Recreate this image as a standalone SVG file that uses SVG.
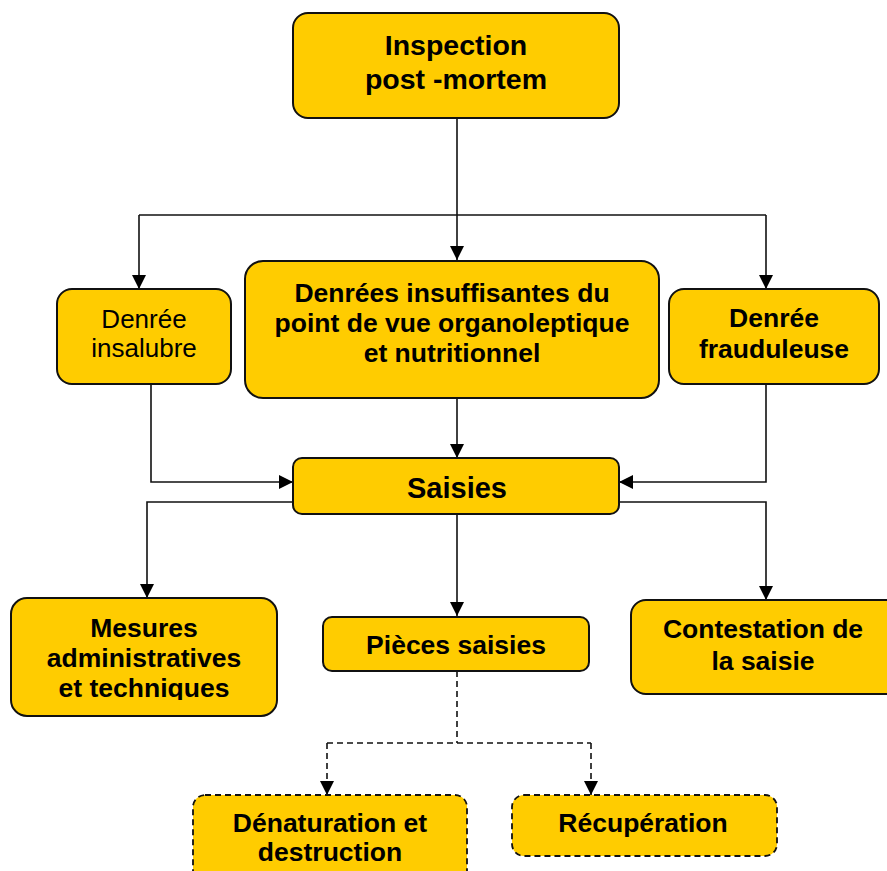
<svg xmlns="http://www.w3.org/2000/svg" width="887" height="871" viewBox="0 0 887 871">
<defs>
<style>
.box{fill:#FFCC00;stroke:#111;stroke-width:2}
.dbox{fill:#FFCC00;stroke:#111;stroke-width:1.8;stroke-dasharray:6 4}
.t{font-family:"Liberation Sans",Arial,sans-serif;font-size:26.5px;font-weight:bold;fill:#000;text-anchor:middle}
.n{font-family:"Liberation Sans",Arial,sans-serif;font-size:26px;fill:#000;text-anchor:middle}
.c{fill:none;stroke:#111;stroke-width:1.6}
.d{fill:none;stroke:#111;stroke-width:1.6;stroke-dasharray:6 4}
</style>
<marker id="ahb" viewBox="0 0 10 10" refX="10" refY="5" markerWidth="14" markerHeight="14" markerUnits="userSpaceOnUse" orient="auto">
<path d="M0,0 L10,5 L0,10 z" fill="#000"/>
</marker>
<clipPath id="clipM"><rect x="11" y="598" width="266" height="102"/></clipPath>
</defs>
<rect width="887" height="871" fill="#fff"/>
<g id="connectors">
<path class="c" d="M457,118 V260" marker-end="url(#ahb)"/>
<path class="c" d="M139,215 H766"/>
<path class="c" d="M139,215 V289" marker-end="url(#ahb)"/>
<path class="c" d="M766,215 V289" marker-end="url(#ahb)"/>
<path class="c" d="M151,384 V482 H293" marker-end="url(#ahb)"/>
<path class="c" d="M766,384 V482 H619" marker-end="url(#ahb)"/>
<path class="c" d="M457,398 V458" marker-end="url(#ahb)"/>
<path class="c" d="M293,502 H147 V598" marker-end="url(#ahb)"/>
<path class="c" d="M619,502 H766 V600" marker-end="url(#ahb)"/>
<path class="c" d="M457,514 V616" marker-end="url(#ahb)"/>
<path class="d" d="M457,671 V743"/>
<path class="d" d="M327,743 H591"/>
<path class="d" d="M327,743 V795" marker-end="url(#ahb)"/>
<path class="d" d="M591,743 V795" marker-end="url(#ahb)"/>
</g>
<g id="inspection">
<rect class="box" x="293" y="13" width="326" height="105" rx="15"/>
<text class="t" style="font-size:28.5px" x="456" y="55">Inspection</text>
<text class="t" style="font-size:28.5px" x="456" y="89">post -mortem</text>
</g>
<g id="insalubre">
<rect class="box" x="57" y="289" width="174" height="95" rx="15"/>
<text class="n" x="144" y="328">Denrée</text>
<text class="n" x="144" y="357">insalubre</text>
</g>
<g id="insuffisantes">
<rect class="box" x="245" y="261" width="414" height="137" rx="18"/>
<text class="t" x="452" y="302">Denrées insuffisantes du</text>
<text class="t" x="452" y="332">point de vue organoleptique</text>
<text class="t" x="452" y="362">et nutritionnel</text>
</g>
<g id="frauduleuse">
<rect class="box" x="669" y="289" width="210" height="95" rx="15"/>
<text class="t" x="774" y="327">Denrée</text>
<text class="t" x="774" y="358">frauduleuse</text>
</g>
<g id="saisies">
<rect class="box" x="293" y="458" width="326" height="56" rx="9"/>
<text class="t" style="font-size:29px" x="457" y="498">Saisies</text>
</g>
<g id="mesures">
<rect class="box" x="11" y="598" width="266" height="118" rx="16"/>
<g clip-path="url(#clipM)">
<text class="t" x="144" y="637">Mesures</text>
<text class="t" x="144" y="667">administratives</text>
<text class="t" x="144" y="697">et techniques</text>
</g>
</g>
<g id="pieces">
<rect class="box" x="323" y="617" width="266" height="54" rx="9"/>
<text class="t" x="456" y="654">Pièces saisies</text>
</g>
<g id="contestation">
<rect class="box" x="631" y="600" width="270" height="94" rx="15"/>
<text class="t" x="763" y="638">Contestation de</text>
<text class="t" x="763" y="670">la saisie</text>
</g>
<g id="denaturation">
<rect class="dbox" x="193" y="795" width="274" height="100" rx="12"/>
<text class="t" x="330" y="832">Dénaturation et</text>
<text class="t" x="330" y="861">destruction</text>
</g>
<g id="recuperation">
<rect class="dbox" x="512" y="795" width="265" height="61" rx="12"/>
<text class="t" x="643" y="832">Récupération</text>
</g>
</svg>
